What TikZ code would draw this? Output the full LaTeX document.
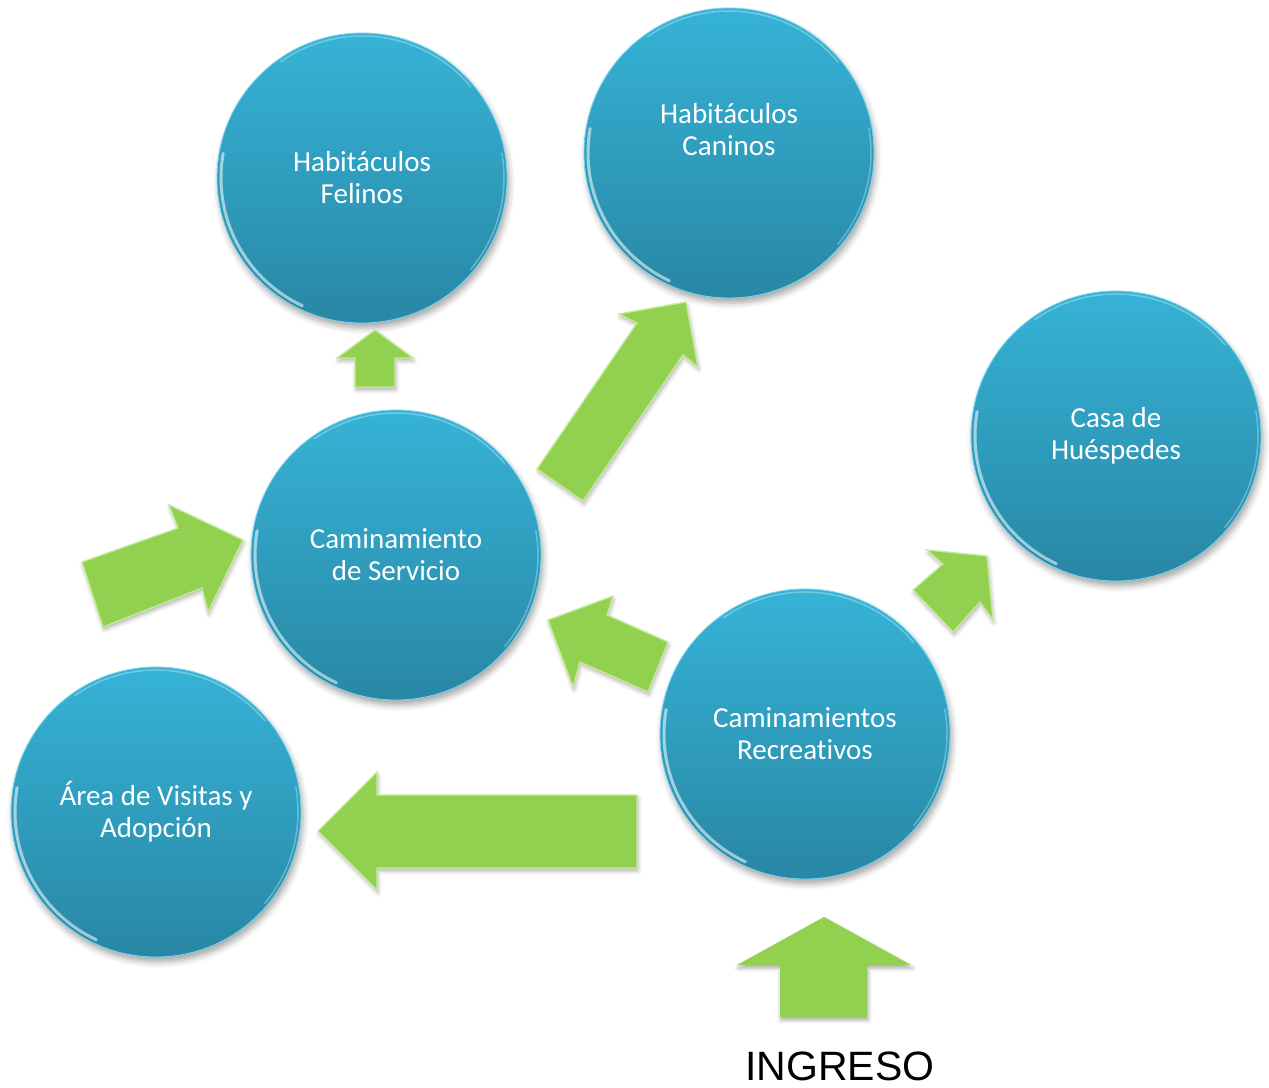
\documentclass[tikz,border=0pt]{standalone}
\usepackage{fontspec}
\setmainfont{Carlito}[Ligatures=NoCommon]
\newfontfamily\ingfont{Liberation Sans}
\usetikzlibrary{shadows.blur,calc}
\definecolor{ctop}{RGB}{54,179,215}
\definecolor{cbot}{RGB}{40,135,164}
\definecolor{cedge}{RGB}{120,215,238}
\definecolor{agreen}{RGB}{146,208,80}
\definecolor{alight}{RGB}{196,236,150}
\begin{document}
\begin{tikzpicture}[x=1pt,y=-1pt,
  place/.style={circle,minimum size=290pt,inner sep=0pt,draw=cedge,line width=.8pt,
    top color=ctop,bottom color=cbot,
    blur shadow={shadow xshift=2pt,shadow yshift=-5pt,shadow blur radius=6pt,shadow opacity=35}},
  lbl/.style={align=center,text=white,inner sep=0pt,font=\fontsize{29}{32}\selectfont},
  rim/.style={white,opacity=.55,line width=3pt,line cap=round},
  rimthin/.style={white,opacity=.3,line width=1.5pt,line cap=round},
  barrow/.style={fill=agreen,draw=alight,line width=1.3pt,line join=miter,
    blur shadow={shadow xshift=1pt,shadow yshift=-3pt,shadow blur radius=4pt,shadow opacity=30}},
  flatarrow/.style={fill=agreen,draw=none,
    blur shadow={shadow xshift=1pt,shadow yshift=-3pt,shadow blur radius=4pt,shadow opacity=35}}]
\useasboundingbox (0,0) rectangle (1269,1087);

% circles
\node[place] (fel) at (362,178) {};
\node[place] (can) at (729,153) {};
\node[place] (casa) at (1116,436) {};
\node[place] (serv) at (396,555) {};
\node[place] (recr) at (805,734) {};
\node[place] (area) at (156,812) {};

% glossy rims
\foreach \c in {fel,can,casa,serv,recr,area}{
  \draw[rim] ([shift={(170:141pt)}]\c.center) arc[start angle=170,end angle=245,radius=141pt];
  \draw[rimthin] ([shift={(40:142pt)}]\c.center) arc[start angle=40,end angle=125,radius=142pt];
  \draw[rimthin] ([shift={(-40:142pt)}]\c.center) arc[start angle=-40,end angle=10,radius=142pt];
}

% labels
\node[lbl] (tfel) at (fel.center) {Habitáculos\\Felinos};
\node[lbl] (tcan) at ($(can.center)+(0,-23)$) {Habitáculos\\Caninos};
\node[lbl] (tcasa) at (casa.center) {Casa de\\Huéspedes};
\node[lbl] (tserv) at (serv.center) {Caminamiento\\de Servicio};
\node[lbl] (trecr) at (recr.center) {Caminamientos\\Recreativos};
\node[lbl] (tarea) at (area.center) {Área de Visitas y\\Adopción};

% block arrows
\draw[barrow] (355,387) -- (355,358) -- (337,358) -- (375,330) -- (413,358) -- (395,358) -- (395,387) -- cycle;
\draw[barrow] (537,469) -- (637,323) -- (619,314) -- (686,302) -- (698,367) -- (683,355) -- (583,501) -- cycle;
\draw[barrow] (668,642) -- (607,615) -- (613,596) -- (548,620) -- (573,687) -- (580,662) -- (648,692) -- cycle;
\draw[barrow] (637,795) -- (377,795) -- (377,772) -- (318,831) -- (377,890) -- (377,868) -- (637,868) -- cycle;
\draw[barrow] (913,590) -- (943,564) -- (927,550) -- (987,556) -- (993,620) -- (980,602) -- (953,632) -- cycle;
\draw[barrow] (82,562) -- (178,528) -- (169,505) -- (243,540) -- (208,612) -- (202,588) -- (103,627) -- cycle;

% entrance
\draw[flatarrow] (780,1017) -- (780,965) -- (737,965) -- (824,917) -- (911,965) -- (867,965) -- (867,1017) -- cycle;
\node[anchor=base,inner sep=0pt,font=\ingfont\fontsize{41}{46}\selectfont] (ing) at (840,1080) {INGRESO};
\end{tikzpicture}
\end{document}
